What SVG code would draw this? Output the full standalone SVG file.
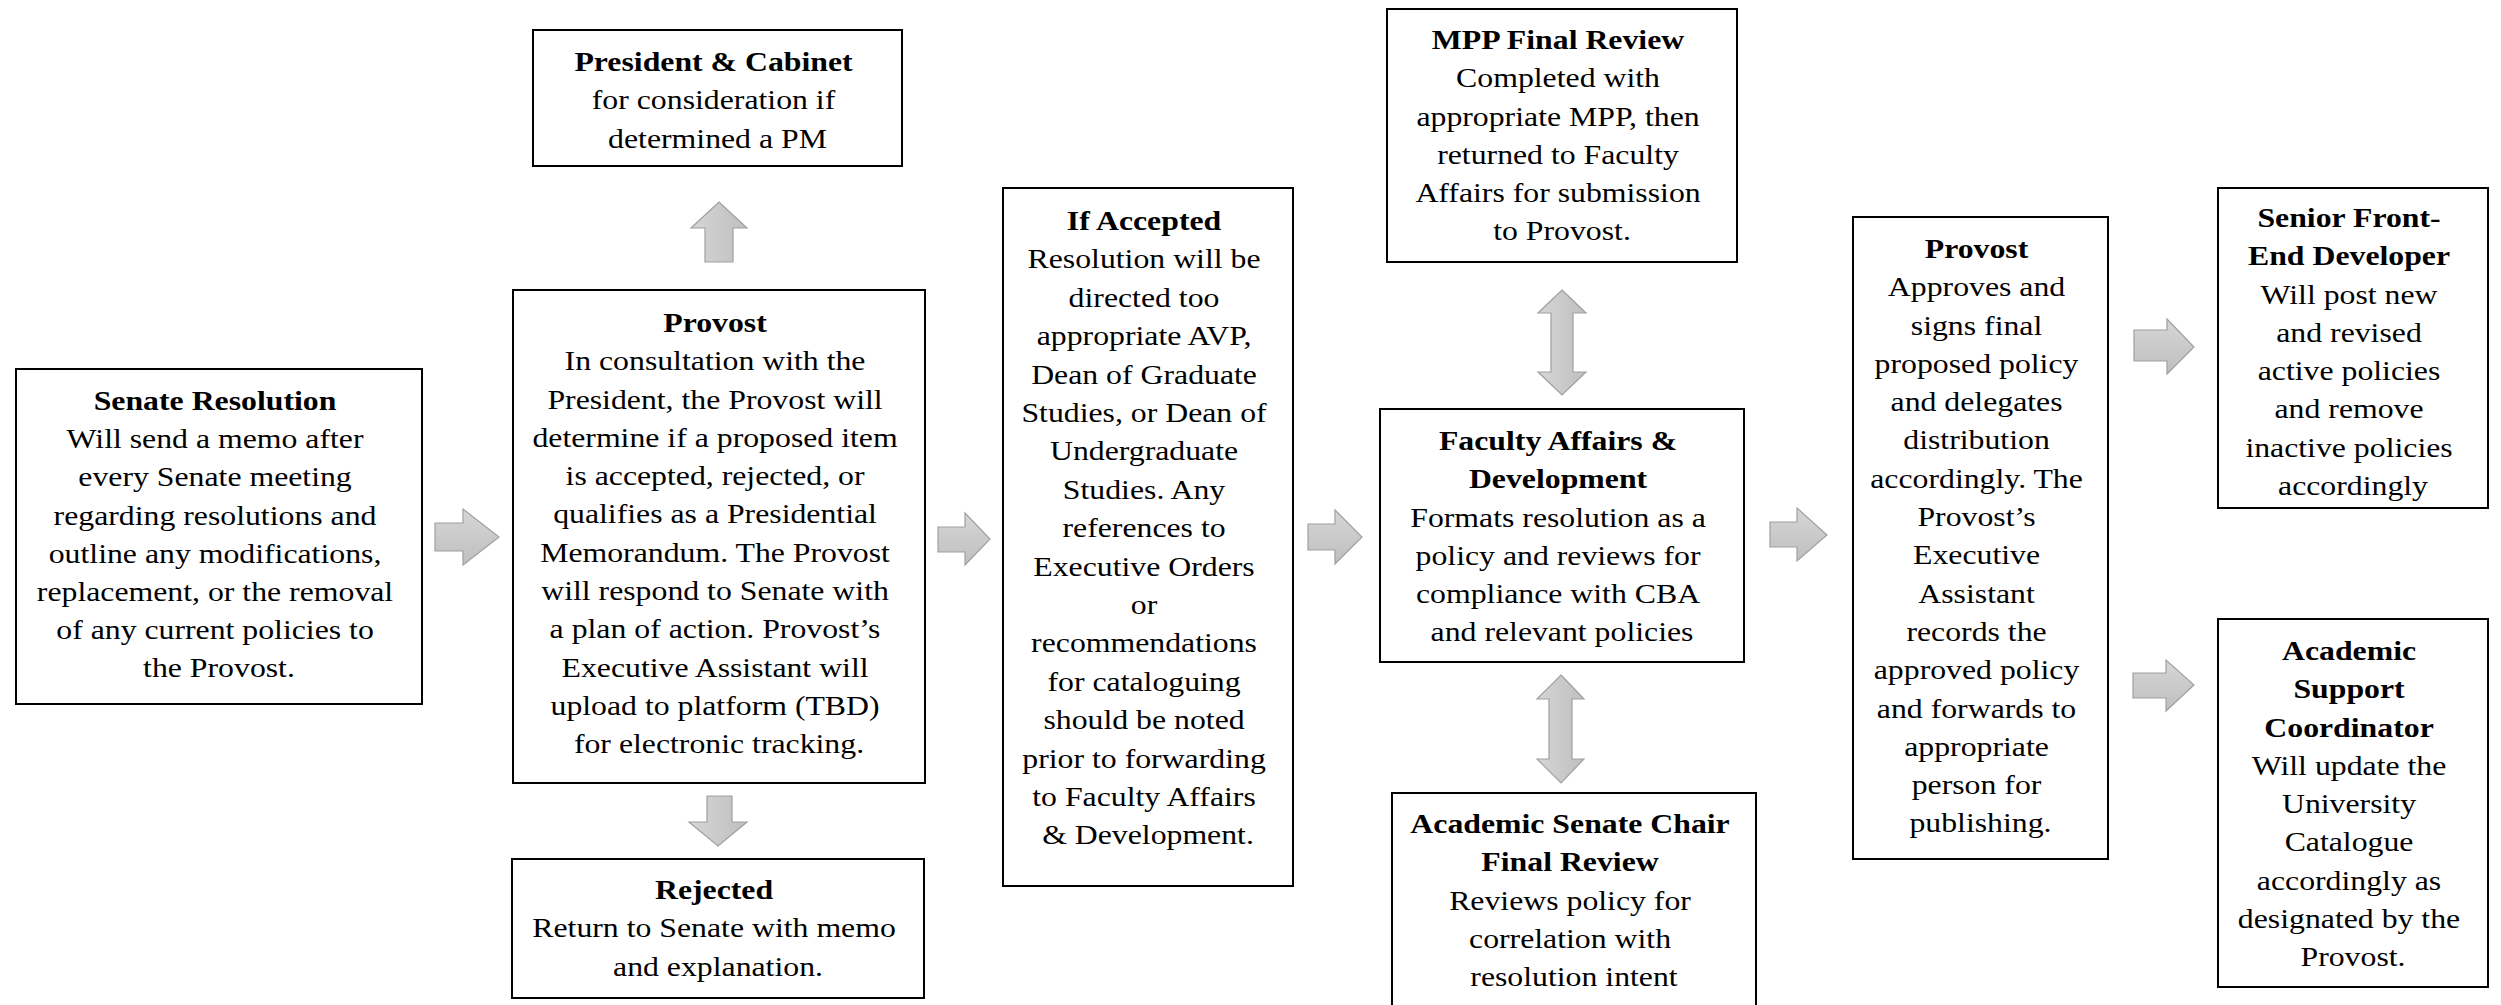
<svg xmlns="http://www.w3.org/2000/svg" width="2501" height="1005" viewBox="0 0 2501 1005">
<defs>
<linearGradient id="ag" x1="0" y1="0" x2="0" y2="1">
<stop offset="0" stop-color="#d6d6d6"/>
<stop offset="1" stop-color="#bfbfbf"/>
</linearGradient>
<linearGradient id="agh" x1="0" y1="0" x2="1" y2="0">
<stop offset="0" stop-color="#d6d6d6"/>
<stop offset="1" stop-color="#bfbfbf"/>
</linearGradient>
</defs>
<style>
.box{fill:#fff;stroke:#000;stroke-width:2}
text{font-family:'Liberation Serif','Times New Roman',Times,'DejaVu Serif',serif;font-size:28px;fill:#000;text-anchor:middle}
.b{font-weight:bold}
.ar{fill:url(#ag);stroke:#a0a0a0;stroke-width:1.2}
.av{fill:url(#agh);stroke:#a0a0a0;stroke-width:1.2}
</style>
<rect width="2501" height="1005" fill="#fff"/>
<g id="connectors">
<polygon class="ar" points="435,523 463,523 463,509 499,537 463,565 463,551 435,551"/>
<polygon class="ar" points="938,527 965,527 965,513 990,539 965,565 965,552 938,552"/>
<polygon class="ar" points="1308,524 1335,524 1335,510 1362,537 1335,564 1335,550 1308,550"/>
<polygon class="ar" points="1770,522 1797,522 1797,508 1827,535 1797,561 1797,547 1770,547"/>
<polygon class="ar" points="2134,330 2167,330 2167,319 2194,347 2167,374 2167,361 2134,361"/>
<polygon class="ar" points="2133,673 2166,673 2166,660 2194,685 2166,711 2166,698 2133,698"/>
<polygon class="av" points="705,262 705,228 691,228 719,202 747,228 733,228 733,262"/>
<polygon class="av" points="707,796 732,796 732,822 747,822 718,846 689,822 707,822"/>
<polygon class="av" points="1562,290 1586,313 1573,313 1573,372 1586,372 1562,395 1538,372 1551,372 1551,313 1538,313"/>
<polygon class="av" points="1561,675 1584,699 1572,699 1572,759 1584,759 1561,783 1537,759 1549,759 1549,699 1537,699"/>
</g>
<g id="senate-resolution">
<rect class="box" x="16" y="369" width="406" height="335"/>
<g transform="translate(219 0) scale(1.135 1)"><text font-family="Liberation Serif, serif" y="410">
<tspan x="0" class="b">Senate Resolution</tspan>
<tspan x="0" dy="38.2">Will send a memo after</tspan>
<tspan x="0" dy="38.2">every Senate meeting</tspan>
<tspan x="0" dy="38.2">regarding resolutions and</tspan>
<tspan x="0" dy="38.2">outline any modifications,</tspan>
<tspan x="0" dy="38.2">replacement, or the removal</tspan>
<tspan x="0" dy="38.2">of any current policies to</tspan>
<tspan x="0" dy="38.2">the Provost.</tspan>
</text></g>
</g>
<g id="president-cabinet">
<rect class="box" x="533" y="30" width="369" height="136"/>
<g transform="translate(717.5 0) scale(1.135 1)"><text y="71">
<tspan x="0" class="b">President &amp; Cabinet</tspan>
<tspan x="0" dy="38.3">for consideration if</tspan>
<tspan x="0" dy="38.3">determined a PM</tspan>
</text></g>
</g>
<g id="provost">
<rect class="box" x="513" y="290" width="412" height="493"/>
<g transform="translate(719 0) scale(1.135 1)"><text y="332">
<tspan x="0" class="b">Provost</tspan>
<tspan x="0" dy="38.3">In consultation with the</tspan>
<tspan x="0" dy="38.3">President, the Provost will</tspan>
<tspan x="0" dy="38.3">determine if a proposed item</tspan>
<tspan x="0" dy="38.3">is accepted, rejected, or</tspan>
<tspan x="0" dy="38.3">qualifies as a Presidential</tspan>
<tspan x="0" dy="38.3">Memorandum. The Provost</tspan>
<tspan x="0" dy="38.3">will respond to Senate with</tspan>
<tspan x="0" dy="38.3">a plan of action. Provost’s</tspan>
<tspan x="0" dy="38.3">Executive Assistant will</tspan>
<tspan x="0" dy="38.3">upload to platform (TBD)</tspan>
<tspan x="0" dy="38.3">for electronic tracking.</tspan>
</text></g>
</g>
<g id="rejected">
<rect class="box" x="512" y="859" width="412" height="139"/>
<g transform="translate(718 0) scale(1.135 1)"><text y="899">
<tspan x="0" class="b">Rejected</tspan>
<tspan x="0" dy="38.3">Return to Senate with memo</tspan>
<tspan x="0" dy="38.3">and explanation.</tspan>
</text></g>
</g>
<g id="if-accepted">
<rect class="box" x="1003" y="188" width="290" height="698"/>
<g transform="translate(1148 0) scale(1.135 1)"><text y="230">
<tspan x="0" class="b">If Accepted</tspan>
<tspan x="0" dy="38.4">Resolution will be</tspan>
<tspan x="0" dy="38.4">directed too</tspan>
<tspan x="0" dy="38.4">appropriate AVP,</tspan>
<tspan x="0" dy="38.4">Dean of Graduate</tspan>
<tspan x="0" dy="38.4">Studies, or Dean of</tspan>
<tspan x="0" dy="38.4">Undergraduate</tspan>
<tspan x="0" dy="38.4">Studies. Any</tspan>
<tspan x="0" dy="38.4">references to</tspan>
<tspan x="0" dy="38.4">Executive Orders</tspan>
<tspan x="0" dy="38.4">or</tspan>
<tspan x="0" dy="38.4">recommendations</tspan>
<tspan x="0" dy="38.4">for cataloguing</tspan>
<tspan x="0" dy="38.4">should be noted</tspan>
<tspan x="0" dy="38.4">prior to forwarding</tspan>
<tspan x="0" dy="38.4">to Faculty Affairs</tspan>
<tspan x="0" dy="38.4">&amp; Development.</tspan>
</text></g>
</g>
<g id="mpp-final-review">
<rect class="box" x="1387" y="9" width="350" height="253"/>
<g transform="translate(1562 0) scale(1.135 1)"><text y="49">
<tspan x="0" class="b">MPP Final Review</tspan>
<tspan x="0" dy="38.3">Completed with</tspan>
<tspan x="0" dy="38.3">appropriate MPP, then</tspan>
<tspan x="0" dy="38.3">returned to Faculty</tspan>
<tspan x="0" dy="38.3">Affairs for submission</tspan>
<tspan x="0" dy="38.3">to Provost.</tspan>
</text></g>
</g>
<g id="faculty-affairs">
<rect class="box" x="1380" y="409" width="364" height="253"/>
<g transform="translate(1562 0) scale(1.135 1)"><text y="450">
<tspan x="0" class="b">Faculty Affairs &amp;</tspan>
<tspan x="0" dy="38.3" class="b">Development</tspan>
<tspan x="0" dy="38.3">Formats resolution as a</tspan>
<tspan x="0" dy="38.3">policy and reviews for</tspan>
<tspan x="0" dy="38.3">compliance with CBA</tspan>
<tspan x="0" dy="38.3">and relevant policies</tspan>
</text></g>
</g>
<g id="senate-chair-review">
<rect class="box" x="1392" y="793" width="364" height="230"/>
<g transform="translate(1574 0) scale(1.135 1)"><text y="833">
<tspan x="0" class="b">Academic Senate Chair</tspan>
<tspan x="0" dy="38.3" class="b">Final Review</tspan>
<tspan x="0" dy="38.3">Reviews policy for</tspan>
<tspan x="0" dy="38.3">correlation with</tspan>
<tspan x="0" dy="38.3">resolution intent</tspan>
</text></g>
</g>
<g id="provost-approval">
<rect class="box" x="1853" y="217" width="255" height="642"/>
<g transform="translate(1980.5 0) scale(1.135 1)"><text y="258">
<tspan x="0" class="b">Provost</tspan>
<tspan x="0" dy="38.3">Approves and</tspan>
<tspan x="0" dy="38.3">signs final</tspan>
<tspan x="0" dy="38.3">proposed policy</tspan>
<tspan x="0" dy="38.3">and delegates</tspan>
<tspan x="0" dy="38.3">distribution</tspan>
<tspan x="0" dy="38.3">accordingly. The</tspan>
<tspan x="0" dy="38.3">Provost’s</tspan>
<tspan x="0" dy="38.3">Executive</tspan>
<tspan x="0" dy="38.3">Assistant</tspan>
<tspan x="0" dy="38.3">records the</tspan>
<tspan x="0" dy="38.3">approved policy</tspan>
<tspan x="0" dy="38.3">and forwards to</tspan>
<tspan x="0" dy="38.3">appropriate</tspan>
<tspan x="0" dy="38.3">person for</tspan>
<tspan x="0" dy="38.3">publishing.</tspan>
</text></g>
</g>
<g id="senior-front-end-developer">
<rect class="box" x="2218" y="188" width="270" height="320"/>
<g transform="translate(2353 0) scale(1.135 1)"><text y="227">
<tspan x="0" class="b">Senior Front-</tspan>
<tspan x="0" dy="38.3" class="b">End Developer</tspan>
<tspan x="0" dy="38.3">Will post new</tspan>
<tspan x="0" dy="38.3">and revised</tspan>
<tspan x="0" dy="38.3">active policies</tspan>
<tspan x="0" dy="38.3">and remove</tspan>
<tspan x="0" dy="38.3">inactive policies</tspan>
<tspan x="0" dy="38.3">accordingly</tspan>
</text></g>
</g>
<g id="academic-support-coordinator">
<rect class="box" x="2218" y="619" width="270" height="368"/>
<g transform="translate(2353 0) scale(1.135 1)"><text y="660">
<tspan x="0" class="b">Academic</tspan>
<tspan x="0" dy="38.3" class="b">Support</tspan>
<tspan x="0" dy="38.3" class="b">Coordinator</tspan>
<tspan x="0" dy="38.3">Will update the</tspan>
<tspan x="0" dy="38.3">University</tspan>
<tspan x="0" dy="38.3">Catalogue</tspan>
<tspan x="0" dy="38.3">accordingly as</tspan>
<tspan x="0" dy="38.3">designated by the</tspan>
<tspan x="0" dy="38.3">Provost.</tspan>
</text></g>
</g>
</svg>
